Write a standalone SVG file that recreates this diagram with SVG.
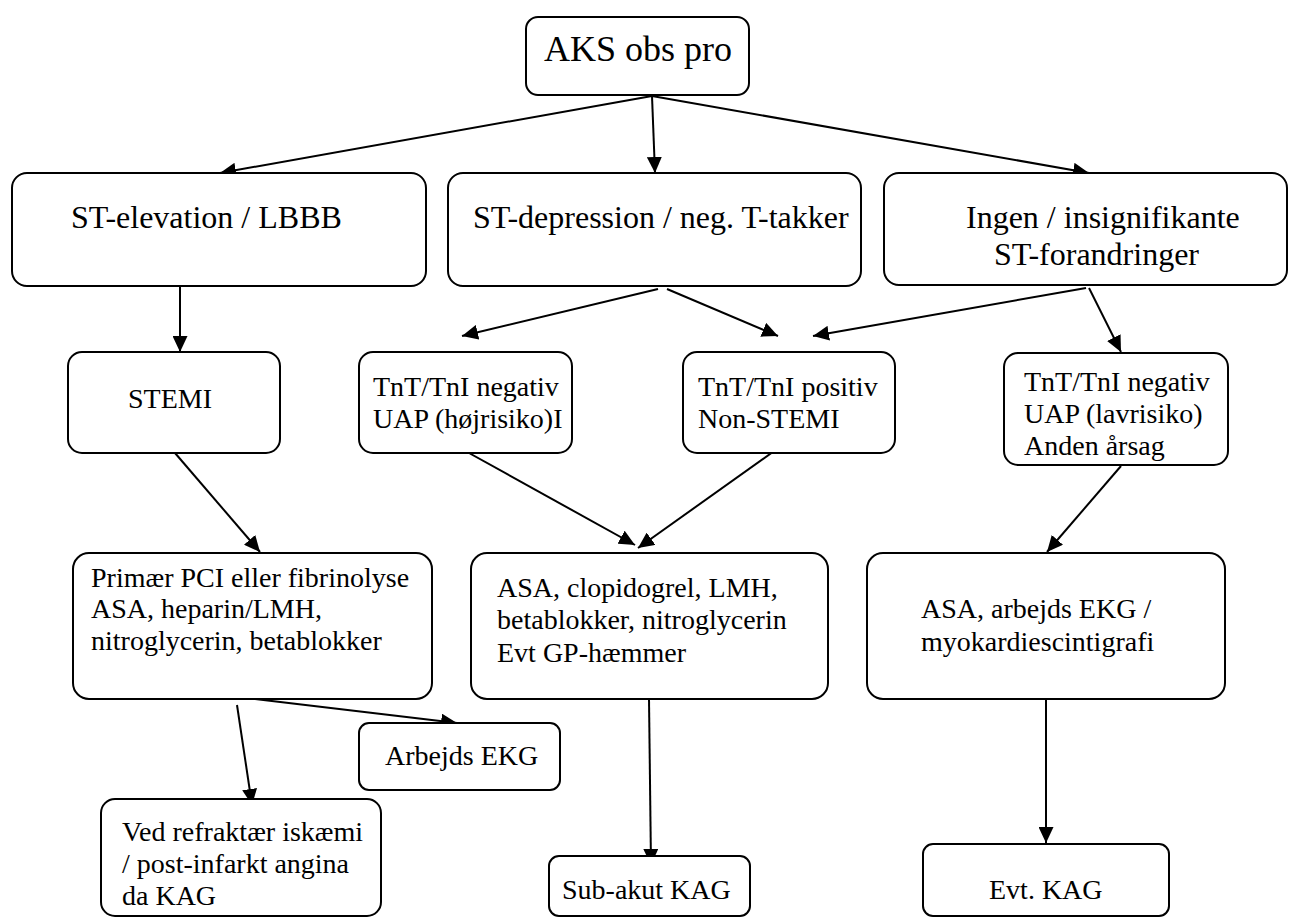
<svg xmlns="http://www.w3.org/2000/svg" width="1289" height="918" viewBox="0 0 1289 918">
<style>
.box{fill:#fff;stroke:#000;stroke-width:2}
text{font-family:'Liberation Serif','Times New Roman',serif;fill:#000}
.t36{font-size:36px}
.t32{font-size:32px}
.t28{font-size:28px}
.c line{stroke:#000;stroke-width:2;marker-end:url(#ah)}
</style>
<defs>
<marker id="ah" markerUnits="userSpaceOnUse" markerWidth="16" markerHeight="15" refX="16" refY="7.5" orient="auto">
<path d="M0,0 L16,7.5 L0,15 z" fill="#000"/>
</marker>
</defs>
<rect width="1289" height="918" fill="#fff"/>
<g id="connectors" class="c">
<line x1="652" y1="96" x2="220" y2="173"/>
<line x1="652" y1="96" x2="655" y2="173"/>
<line x1="652" y1="96" x2="1089" y2="173"/>
<line x1="180" y1="286" x2="180" y2="352"/>
<line x1="658" y1="289" x2="462" y2="336"/>
<line x1="667" y1="289" x2="778" y2="336"/>
<line x1="1086" y1="288" x2="813" y2="336"/>
<line x1="1089" y1="288" x2="1121" y2="352"/>
<line x1="175" y1="453" x2="260" y2="552"/>
<line x1="460" y1="448" x2="635" y2="545"/>
<line x1="777" y1="449" x2="638" y2="548"/>
<line x1="1121" y1="466" x2="1047" y2="552"/>
<line x1="255" y1="699" x2="457" y2="723"/>
<line x1="237" y1="705" x2="252" y2="805"/>
<line x1="649" y1="699" x2="651" y2="865"/>
<line x1="1046" y1="699" x2="1046" y2="843"/>
</g>
<g id="aks">
<rect class="box" x="526" y="17" width="223" height="78" rx="12"/>
<text class="t36" x="544" y="61">AKS obs pro</text>
</g>
<g id="st-elevation">
<rect class="box" x="12" y="173" width="414" height="113" rx="15"/>
<text class="t32" x="71" y="228">ST-elevation / LBBB</text>
</g>
<g id="st-depression">
<rect class="box" x="448" y="173" width="413" height="113" rx="15"/>
<text class="t32" x="473" y="228">ST-depression / neg. T-takker</text>
</g>
<g id="ingen">
<rect class="box" x="884" y="173" width="403" height="112" rx="15"/>
<text class="t32" x="966" y="228">Ingen / insignifikante</text>
<text class="t32" x="994" y="265">ST-forandringer</text>
</g>
<g id="stemi">
<rect class="box" x="68" y="352" width="212" height="101" rx="14"/>
<text class="t28" x="128" y="408">STEMI</text>
</g>
<g id="tnt-neg-hoj">
<rect class="box" x="359" y="352" width="213" height="101" rx="14"/>
<text class="t28" x="373" y="396">TnT/TnI negativ</text>
<text class="t28" x="373" y="428">UAP (højrisiko)I</text>
</g>
<g id="tnt-pos">
<rect class="box" x="683" y="352" width="212" height="101" rx="14"/>
<text class="t28" x="698" y="396">TnT/TnI positiv</text>
<text class="t28" x="698" y="428">Non-STEMI</text>
</g>
<g id="tnt-neg-lav">
<rect class="box" x="1004" y="353" width="224" height="112" rx="14"/>
<text class="t28" x="1024" y="391">TnT/TnI negativ</text>
<text class="t28" x="1024" y="423">UAP (lavrisiko)</text>
<text class="t28" x="1024" y="455">Anden årsag</text>
</g>
<g id="primaer">
<rect class="box" x="73" y="553" width="359" height="146" rx="16"/>
<text class="t28" x="91" y="587">Primær PCI eller fibrinolyse</text>
<text class="t28" x="91" y="618">ASA, heparin/LMH,</text>
<text class="t28" x="91" y="650">nitroglycerin, betablokker</text>
</g>
<g id="asa-clopidogrel">
<rect class="box" x="471" y="553" width="357" height="146" rx="16"/>
<text class="t28" x="497" y="597">ASA, clopidogrel, LMH,</text>
<text class="t28" x="497" y="629">betablokker, nitroglycerin</text>
<text class="t28" x="497" y="662">Evt GP-hæmmer</text>
</g>
<g id="asa-arbejds">
<rect class="box" x="867" y="553" width="358" height="146" rx="16"/>
<text class="t28" x="921" y="618">ASA, arbejds EKG /</text>
<text class="t28" x="921" y="651">myokardiescintigrafi</text>
</g>
<g id="arbejds-ekg">
<rect class="box" x="359" y="723" width="201" height="67" rx="10"/>
<text class="t28" x="385" y="765">Arbejds EKG</text>
</g>
<g id="ved-refraktaer">
<rect class="box" x="101" y="799" width="280" height="117" rx="14"/>
<text class="t28" x="122" y="841">Ved refraktær iskæmi</text>
<text class="t28" x="122" y="873">/ post-infarkt angina</text>
<text class="t28" x="122" y="905">da KAG</text>
</g>
<g id="sub-akut">
<rect class="box" x="549" y="856" width="201" height="60" rx="10"/>
<text class="t28" x="562" y="899">Sub-akut KAG</text>
</g>
<g id="evt-kag">
<rect class="box" x="923" y="844" width="246" height="72" rx="10"/>
<text class="t28" x="989" y="899">Evt. KAG</text>
</g>
</svg>
